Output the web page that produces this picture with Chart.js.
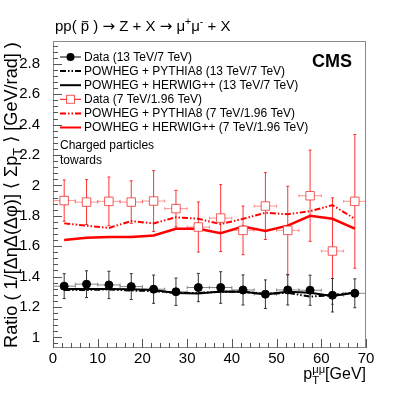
<!DOCTYPE html>
<html>
<head>
<meta charset="utf-8">
<script src="https://cdn.jsdelivr.net/npm/chart.js@4/dist/chart.umd.min.js"></script>
<style>
  html, body { margin: 0; padding: 0; background: #fff; }
</style>
</head>
<body>
<canvas id="chart" width="407" height="396"></canvas>
<script>
// pT(mumu) bin centres and half widths [GeV]
let binCenters = [2.5, 7.5, 12.5, 17.5, 22.5, 27.5, 32.5, 37.5, 42.5, 47.5, 52.5, 57.5, 62.5, 67.5];
let binHalfWidth = 2.5;

// 13 TeV / 7 TeV
let data13 = [1.337, 1.350, 1.345, 1.334, 1.317, 1.300, 1.328, 1.328, 1.312, 1.284, 1.312, 1.310, 1.277, 1.290];
let err13 = [0.082, 0.088, 0.090, 0.085, 0.093, 0.090, 0.093, 0.104, 0.099, 0.094, 0.099, 0.099, 0.110, 0.095];
let pythia13 = [1.312, 1.312, 1.315, 1.308, 1.305, 1.292, 1.292, 1.300, 1.300, 1.287, 1.293, 1.268, 1.278, 1.296];
let herwig13 = [1.318, 1.318, 1.318, 1.316, 1.312, 1.292, 1.288, 1.302, 1.300, 1.284, 1.300, 1.294, 1.272, 1.293];

// 7 TeV / 1.96 TeV
let data7 = [1.900, 1.890, 1.895, 1.890, 1.897, 1.847, 1.726, 1.785, 1.704, 1.864, 1.704, 1.932, 1.568, 1.895];
let err7 = [0.136, 0.148, 0.160, 0.140, 0.200, 0.120, 0.165, 0.220, 0.160, 0.220, 0.290, 0.300, 0.350, 0.440];
let pythia7 = [1.750, 1.735, 1.720, 1.765, 1.750, 1.790, 1.780, 1.745, 1.780, 1.820, 1.810, 1.830, 1.870, 1.780];
let herwig7 = [1.640, 1.655, 1.660, 1.660, 1.670, 1.715, 1.715, 1.685, 1.730, 1.700, 1.735, 1.800, 1.780, 1.715];

let xTicks = [0, 10, 20, 30, 40, 50, 60, 70];
let yTicks = [1, 1.2, 1.4, 1.6, 1.8, 2, 2.2, 2.4, 2.6, 2.8];

let legendLabels = [
  'Data (13 TeV/7 TeV)',
  'POWHEG + PYTHIA8 (13 TeV/7 TeV)',
  'POWHEG + HERWIG++ (13 TeV/7 TeV)',
  'Data (7 TeV/1.96 TeV)',
  'POWHEG + PYTHIA8 (7 TeV/1.96 TeV)',
  'POWHEG + HERWIG++ (7 TeV/1.96 TeV)'
];

const FONT = "'Liberation Sans', Arial, sans-serif";
const SYMFONT = "'DejaVu Sans', sans-serif";
const RED = '#ff0000';
const RED_MARK = 'rgba(240, 60, 60, 0.85)';
const DASHDOT = [6, 2, 1.5, 2, 1.5, 2];

function points(values) {
  return binCenters.map((x, i) => ({x: x, y: values[i]}));
}

// Draws text pieces with sub/superscripts, returns total width
function drawPieces(ctx, pieces, x, y, size, measureOnly) {
  let cx = x;
  pieces.forEach(p => {
    let fs = p.sub || p.sup ? size * 0.7 : size;
    ctx.font = fs + 'px ' + (p.sym ? SYMFONT : FONT);
    let dy = p.sub ? size * 0.3 : (p.sup ? -size * 0.4 : 0);
    let w = ctx.measureText(p.t).width;
    if (!measureOnly) {
      ctx.fillText(p.t, cx, y + dy);
      if (p.bar) {
        ctx.beginPath();
        ctx.moveTo(cx + 1, y - size * 0.62);
        ctx.lineTo(cx + w - 1, y - size * 0.62);
        ctx.lineWidth = 1;
        ctx.stroke();
      }
    }
    if (!p.noAdvance) cx += w;
  });
  return cx - x;
}

let decor = {
  id: 'decor',
  beforeDatasetsDraw(chart) {
    let ctx = chart.ctx;
    let xs = chart.scales.x, ys = chart.scales.y;
    let area = chart.chartArea;
    ctx.save();
    ctx.beginPath();
    ctx.rect(area.left, area.top, area.right - area.left, area.bottom - area.top);
    ctx.clip();

    // error bars for both data sets
    let sets = [
      {vals: data7, errs: err7, v: 'rgba(255, 0, 0, 0.8)', h: 'rgba(255, 60, 60, 0.55)'},
      {vals: data13, errs: err13, v: '#333', h: '#888'}
    ];
    sets.forEach(s => {
      binCenters.forEach((c, i) => {
        let px = xs.getPixelForValue(c);
        let py = ys.getPixelForValue(s.vals[i]);
        let top = ys.getPixelForValue(s.vals[i] + s.errs[i]);
        let bot = ys.getPixelForValue(s.vals[i] - s.errs[i]);
        let l = xs.getPixelForValue(c - binHalfWidth);
        let r = xs.getPixelForValue(c + binHalfWidth);
        ctx.lineWidth = 1;
        ctx.strokeStyle = s.h;
        ctx.beginPath();
        ctx.moveTo(l, py); ctx.lineTo(r, py);
        ctx.moveTo(l, py - 1.5); ctx.lineTo(l, py + 1.5);
        ctx.moveTo(r, py - 1.5); ctx.lineTo(r, py + 1.5);
        ctx.stroke();
        ctx.strokeStyle = s.v;
        ctx.beginPath();
        ctx.moveTo(px, top); ctx.lineTo(px, bot);
        ctx.moveTo(px - 1.5, top); ctx.lineTo(px + 1.5, top);
        ctx.moveTo(px - 1.5, bot); ctx.lineTo(px + 1.5, bot);
        ctx.stroke();
      });
    });
    ctx.restore();
  },
  afterDraw(chart) {
    let ctx = chart.ctx;
    let xs = chart.scales.x, ys = chart.scales.y;
    let area = chart.chartArea;
    ctx.save();

    // frame
    ctx.strokeStyle = '#888';
    ctx.lineWidth = 1;
    ctx.strokeRect(area.left + 0.5, area.top + 0.5, area.right - area.left - 1, area.bottom - area.top - 1);

    // ticks inside the frame (ROOT style)
    ctx.strokeStyle = '#555';
    ctx.beginPath();
    for (let v = 0; v <= 70.001; v += 2) {
      let px = Math.round(xs.getPixelForValue(v)) + 0.5;
      let len = (Math.round(v) % 10 === 0) ? 9 : 5;
      ctx.moveTo(px, area.bottom);
      ctx.lineTo(px, area.bottom - len);
    }
    for (let v = 0.96; v <= 2.95; v += 0.04) {
      let py = Math.round(ys.getPixelForValue(v)) + 0.5;
      let major = Math.abs(v * 5 - Math.round(v * 5)) < 0.01;
      ctx.moveTo(area.left, py);
      ctx.lineTo(area.left + (major ? 9 : 5), py);
    }
    ctx.stroke();

    ctx.fillStyle = '#000';
    ctx.strokeStyle = '#000';
    ctx.textBaseline = 'alphabetic';

    // top title
    drawPieces(ctx, [
      {t: 'pp( '}, {t: 'p', bar: true}, {t: ' ) '}, {t: '\u2192', sym: true}, {t: ' Z + X '},
      {t: '\u2192', sym: true}, {t: ' \u03bc'},
      {t: '+', sup: true}, {t: '\u03bc'}, {t: '-', sup: true}, {t: ' + X'}
    ], 55, 31, 15);

    // x title
    let xPieces = [{t: 'p'}, {t: 'T', sub: true, noAdvance: true}, {t: '\u03bc\u03bc', sup: true}, {t: '[GeV]'}];
    let xw = drawPieces(ctx, xPieces, 0, 0, 16, true);
    drawPieces(ctx, xPieces, area.right - xw, 379, 16);

    // y title, rotated, fitted to span the frame height
    let yPieces = [{t: 'Ratio ( 1/[\u0394\u03b7\u0394(\u0394\u03c6)] '}, {t: '\u27e8', sym: true}, {t: ' \u03a3p'},
                   {t: 'T', sub: true}, {t: ' '}, {t: '\u27e9', sym: true}, {t: ' [GeV/rad] )'}];
    ctx.save();
    ctx.translate(17, 0);
    ctx.rotate(-Math.PI / 2);
    let yw = drawPieces(ctx, yPieces, 0, 0, 14, true);
    let ySize = Math.min(19, 14 * 306 / yw);
    yw = drawPieces(ctx, yPieces, 0, 0, ySize, true);
    drawPieces(ctx, yPieces, -(195 + yw / 2), 0, ySize);
    ctx.restore();

    // CMS label
    ctx.font = 'bold 18px ' + FONT;
    ctx.textAlign = 'right';
    ctx.fillText('CMS', 352, 67);
    ctx.textAlign = 'left';

    // legend
    ctx.font = '12px ' + FONT;
    ctx.textBaseline = 'middle';
    legendLabels.forEach((label, i) => {
      let y = 57 + i * 14.1;
      let isRed = i >= 3;
      let kind = i % 3;
      ctx.strokeStyle = isRed ? RED : '#000';
      ctx.lineWidth = kind === 0 ? 1 : 2;
      ctx.setLineDash(kind === 1 ? DASHDOT : []);
      ctx.beginPath();
      ctx.moveTo(60, y);
      ctx.lineTo(81, y);
      ctx.stroke();
      ctx.setLineDash([]);
      if (kind === 0 && !isRed) {
        ctx.fillStyle = '#000';
        ctx.beginPath();
        ctx.arc(70.5, y, 4, 0, Math.PI * 2);
        ctx.fill();
      }
      if (kind === 0 && isRed) {
        ctx.fillStyle = '#fff';
        ctx.fillRect(66.5, y - 4, 8, 8);
        ctx.strokeStyle = RED_MARK;
        ctx.lineWidth = 1;
        ctx.strokeRect(66.5, y - 4, 8, 8);
      }
      ctx.fillStyle = '#000';
      ctx.font = '12px ' + FONT;
      ctx.fillText(label, 84, y + 0.5);
    });

    // annotation
    ctx.textBaseline = 'alphabetic';
    ctx.fillText('Charged particles', 60, 149);
    ctx.fillText('towards', 60, 164);

    ctx.restore();
  }
};

let ctx = document.getElementById('chart');
let chart = new Chart(ctx, {
  type: 'line',
  data: {
    datasets: [
      {label: legendLabels[0], data: points(data13), showLine: false, pointStyle: 'circle', pointRadius: 4,
       pointBackgroundColor: '#000', pointBorderColor: '#000', order: 0},
      {label: legendLabels[1], data: points(pythia13), borderColor: '#000', borderWidth: 2, borderDash: DASHDOT,
       pointRadius: 0, order: 2},
      {label: legendLabels[2], data: points(herwig13), borderColor: '#000', borderWidth: 2, pointRadius: 0, order: 3},
      {label: legendLabels[3], data: points(data7), showLine: false, pointStyle: 'rect', pointRadius: 6,
       pointBackgroundColor: '#fff', pointBorderColor: RED_MARK, pointBorderWidth: 1, order: 1},
      {label: legendLabels[4], data: points(pythia7), borderColor: RED, borderWidth: 2, borderDash: DASHDOT,
       pointRadius: 0, order: 4},
      {label: legendLabels[5], data: points(herwig7), borderColor: RED, borderWidth: 2.5, pointRadius: 0, order: 5}
    ]
  },
  options: {
    responsive: false,
    animation: false,
    devicePixelRatio: 1,
    layout: {padding: {left: 0, top: 41, right: 41, bottom: 0}},
    plugins: {legend: {display: false}, tooltip: {enabled: false}},
    scales: {
      x: {
        type: 'linear', min: 0, max: 70,
        grid: {display: false}, border: {display: false},
        ticks: {font: {family: FONT, size: 15}, color: '#000', padding: -6, maxRotation: 0,
                callback: v => String(v)},
        afterBuildTicks: s => { s.ticks = xTicks.map(v => ({value: v})); },
        afterFit: s => { s.height = 48; }
      },
      y: {
        type: 'linear', min: 0.93, max: 2.95,
        grid: {display: false}, border: {display: false},
        ticks: {font: {family: FONT, size: 15}, color: '#000', padding: 5,
                callback: v => String(Number(v.toFixed(1)))},
        afterBuildTicks: s => { s.ticks = yTicks.map(v => ({value: v})); },
        afterFit: s => { s.width = 53; }
      }
    }
  },
  plugins: [decor]
});
</script>
</body>
</html>
